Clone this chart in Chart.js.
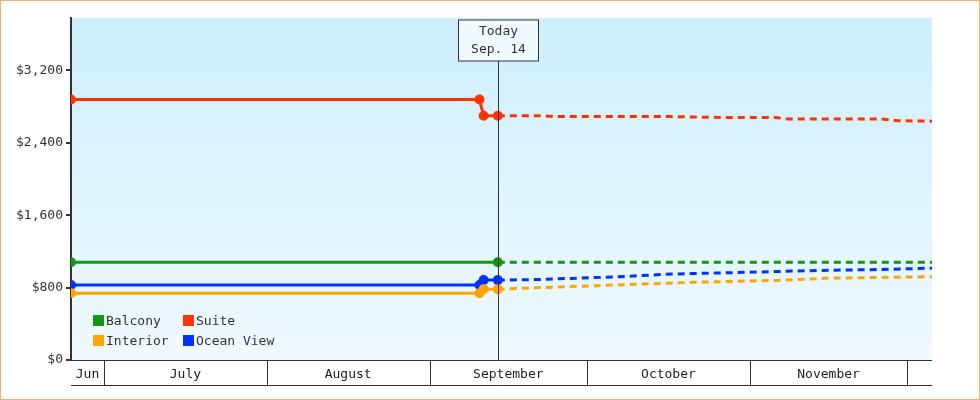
<!DOCTYPE html>
<html><head><meta charset="utf-8">
<script src="https://cdn.jsdelivr.net/npm/chart.js@4"></script>
<style>
body{margin:0;background:#fff}
#wrap{position:relative;width:978px;height:398px;border:1px solid #f0b070}
#legend{position:absolute;left:92px;top:312px;font:13px "DejaVu Sans Mono";color:#333;display:grid;grid-template-columns:90px 110px;row-gap:5px}
#legend span i{display:inline-block;width:11px;height:11px;margin-right:2px;vertical-align:-1px}
</style></head><body>
<div id="wrap"><canvas id="c" width="978" height="398"></canvas>
<div id="legend"><span><i style="background:#119911"></i>Balcony</span><span><i style="background:#ff3300"></i>Suite</span><span><i style="background:#ffa500"></i>Interior</span><span><i style="background:#0033ff"></i>Ocean View</span></div></div>
<script>
// day of year (Jan 1 = 1)
const xMin = 175.7, xMax = 339.7, today = 257;
const monthStarts = [182, 213, 244, 274, 305, 335];
const monthLabels = ["Jun","July","August","September","October","November",""];
const yTicks = [0, 800, 1600, 2400, 3200];

const actualDays = [175.7, 253.5, 254.3, 257];
const suiteActual = [2880, 2880, 2700, 2700];
const oceanActual = [828, 828, 883, 883];
const interiorActual = [739, 739, 783, 783];
const balconyActualDays = [175.7, 257];
const balconyActual = [1081, 1081];

const suiteFcDays = [257, 265, 268, 290, 300, 310, 312, 330, 333, 339.7];
const suiteFc = [2700, 2700, 2690, 2690, 2680, 2680, 2665, 2665, 2645, 2640];
const oceanFcDays = [257, 265, 280, 290, 305, 318, 330, 339.7];
const oceanFc = [883, 890, 920, 950, 970, 990, 1000, 1015];
const interiorFcDays = [257, 265, 280, 295, 310, 320, 339.7];
const interiorFc = [783, 800, 830, 860, 880, 905, 920];
const balconyFcDays = [257, 339.7];
const balconyFc = [1081, 1081];

const pts = (xs, ys) => xs.map((x, i) => ({x, y: ys[i]}));
const solid = (d, c) => ({data: d, borderColor: c, backgroundColor: c, borderWidth: 3, pointRadius: 3.5, pointHoverRadius: 3.5, tension: 0});
const dash = (d, c) => ({data: d, borderColor: c, borderWidth: 3, borderDash: [7, 5], pointRadius: 0, tension: 0});

const bounds = [xMin, ...monthStarts, xMax];
const mids = bounds.slice(0, -1).map((b, i) => (b + bounds[i + 1]) / 2);

const deco = {
  id: 'deco',
  beforeDraw(ch) {
    const a = ch.chartArea, g = ch.ctx.createLinearGradient(0, a.top, 0, a.bottom);
    g.addColorStop(0, '#cdeffc'); g.addColorStop(1, '#f0f9fe');
    ch.ctx.fillStyle = g; ch.ctx.fillRect(a.left, a.top, a.right - a.left, a.bottom - a.top);
  },
  afterDraw(ch) {
    const ctx = ch.ctx, a = ch.chartArea, x = ch.scales.x;
    ctx.save();
    ctx.strokeStyle = '#333'; ctx.lineWidth = 1;
    const yb = a.bottom + 25;
    ctx.beginPath();
    ctx.moveTo(a.left, a.bottom + 0.5); ctx.lineTo(a.right, a.bottom + 0.5);
    ctx.moveTo(a.left, yb + 0.5); ctx.lineTo(a.right, yb + 0.5);
    monthStarts.forEach(m => { const p = Math.round(x.getPixelForValue(m)) + 0.5; ctx.moveTo(p, a.bottom); ctx.lineTo(p, yb); });
    ctx.stroke();
    const tp = Math.round(x.getPixelForValue(today)) + 0.5;
    ctx.beginPath(); ctx.moveTo(tp, 60); ctx.lineTo(tp, a.bottom); ctx.stroke();
    ctx.fillStyle = '#f0fbff'; ctx.fillRect(tp - 40, 19, 80, 41); ctx.strokeRect(tp - 40, 19, 80, 41);
    ctx.fillStyle = '#333'; ctx.font = '13px "DejaVu Sans Mono"'; ctx.textAlign = 'center'; ctx.textBaseline = 'middle';
    ctx.fillText('Today', tp, 31); ctx.fillText('Sep. 14', tp, 49);
    ctx.restore();
  }
};

new Chart(document.getElementById('c'), {
  type: 'line',
  data: {datasets: [
    dash(pts(balconyFcDays, balconyFc), '#119911'),
    dash(pts(interiorFcDays, interiorFc), '#ffa500'),
    dash(pts(oceanFcDays, oceanFc), '#0033ff'),
    dash(pts(suiteFcDays, suiteFc), '#ff3300'),
    solid(pts(balconyActualDays, balconyActual), '#119911'),
    solid(pts(actualDays, interiorActual), '#ffa500'),
    solid(pts(actualDays, oceanActual), '#0033ff'),
    solid(pts(actualDays, suiteActual), '#ff3300'),
  ]},
  options: {
    responsive: false, animation: false, events: [],
    layout: {padding: {left: 0, right: 47, top: 17, bottom: 0}},
    plugins: {legend: {display: false}, tooltip: {enabled: false}},
    scales: {
      x: {type: 'linear', min: xMin, max: xMax,
        afterBuildTicks: s => { s.ticks = mids.map(v => ({value: v})); },
        afterFit: s => { s.height = 39; },
        grid: {display: false}, border: {display: false},
        ticks: {padding: -1, autoSkip: false, maxRotation: 0, color: '#222', font: {family: 'DejaVu Sans Mono', size: 13},
          callback: (v, i) => monthLabels[i]}},
      y: {min: 0, max: 3780,
        afterBuildTicks: s => { s.ticks = yTicks.map(v => ({value: v})); },
        afterFit: s => { s.width = 70; },
        grid: {drawOnChartArea: false, tickLength: 5, color: '#333', lineWidth: 2},
        border: {color: '#333', width: 2},
        ticks: {padding: 3, color: '#333', font: {family: 'DejaVu Sans Mono', size: 13},
          callback: v => '$' + v.toLocaleString('en-US')}}
    }
  },
  plugins: [deco]
});
</script></body></html>
